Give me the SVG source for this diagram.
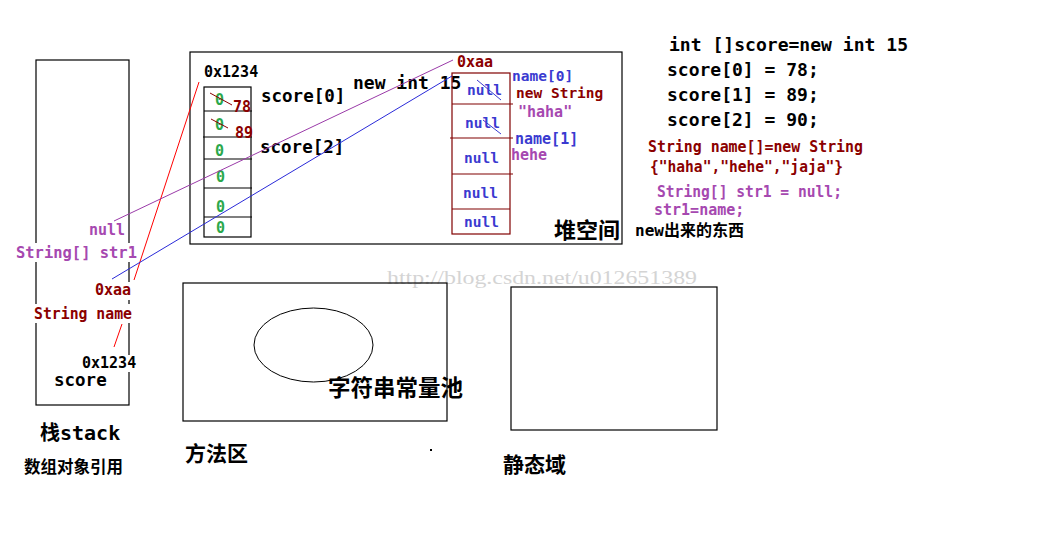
<svg xmlns="http://www.w3.org/2000/svg" width="1064" height="537" viewBox="0 0 1064 537">
<style>
.box{fill:none;stroke:#000;stroke-width:1.2}
.arr{fill:none;stroke:#800000;stroke-width:1.2}
.t{font-family:"DejaVu Sans Mono","Liberation Mono","Noto Sans CJK SC",monospace;font-weight:bold}
.cn{font-family:"Noto Sans CJK SC","DejaVu Sans",sans-serif;font-weight:bold}
.k{fill:#000}
.dr{fill:#8b0000}
.pu{fill:#a648b0}
.bl{fill:#3a3ad0}
.gr{fill:#2aa84a}
.wm{font-family:"Liberation Serif",serif;fill:#d4d4d4;font-size:18px}
</style>

<text class="wm" x="387" y="284" textLength="310" lengthAdjust="spacingAndGlyphs">http://blog.csdn.net/u012651389</text>

<g id="stack">
<rect class="box" x="36" y="60" width="93" height="345"/>
<rect x="14" y="243" width="126" height="19" fill="#fff"/>
<rect x="93" y="282" width="40" height="18" fill="#fff"/>
<rect x="32" y="304" width="103" height="19" fill="#fff"/>
<rect x="80" y="355" width="58" height="17" fill="#fff"/>
<text class="t pu" x="89" y="235" font-size="15">null</text>
<text class="t pu" x="16" y="258" font-size="15.5" textLength="121" lengthAdjust="spacingAndGlyphs">String[] str1</text>
<text class="t dr" x="95" y="295" font-size="15">0xaa</text>
<text class="t dr" x="34" y="319" font-size="15" textLength="98" lengthAdjust="spacingAndGlyphs">String name</text>
<text class="t k" x="82" y="368" font-size="15">0x1234</text>
<text class="t k" x="54" y="386" font-size="17.5">score</text>
<text class="t k" x="40" y="440" font-size="20">栈stack</text>
<text class="cn k" x="24" y="473" font-size="16.5">数组对象引用</text>
</g>

<g id="heap">
<rect class="box" x="190" y="52" width="432" height="192"/>
<text class="cn k" x="554" y="238" font-size="22">堆空间</text>
</g>

<g id="intArray">
<rect class="box" x="204" y="87" width="47" height="150"/>
<path class="box" d="M204 111H252M203 137H252M204 159H252M204 188H252M204 217H252"/>
<text class="t gr" x="215" y="105" font-size="15">0</text>
<text class="t gr" x="215" y="130" font-size="15">0</text>
<text class="t gr" x="215" y="156" font-size="15">0</text>
<text class="t gr" x="216" y="182" font-size="15">0</text>
<text class="t gr" x="216" y="212" font-size="15">0</text>
<text class="t gr" x="216" y="233" font-size="15">0</text>
<path d="M210 93L232 105M211 119L228 128" stroke="#8b0000" stroke-width="1" fill="none"/>
<text class="t dr" x="233" y="112" font-size="15">78</text>
<text class="t dr" x="235" y="138" font-size="15">89</text>
<text class="t k" x="204" y="77" font-size="15">0x1234</text>
<text class="t k" x="261" y="102" font-size="17.5">score[0]</text>
<text class="t k" x="260" y="153" font-size="17.5">score[2]</text>
<text class="t k" x="353" y="89" font-size="18">new int 15</text>
</g>

<g id="stringArray">
<rect class="arr" x="452" y="73" width="58" height="161"/>
<path class="arr" d="M452 104H513M450 138H513M452 174H513M452 209H510"/>
<text class="t bl" x="467" y="95" font-size="14.5">null</text>
<text class="t bl" x="465" y="128" font-size="14.5">null</text>
<text class="t bl" x="464" y="163" font-size="14.5">null</text>
<text class="t bl" x="463" y="198" font-size="14.5">null</text>
<text class="t bl" x="464" y="227" font-size="14.5">null</text>
<path d="M477 80L501 100M483 120L501 134" stroke="#3a3ad0" stroke-width="1" fill="none"/>
<text class="t dr" x="457" y="67" font-size="15">0xaa</text>
<text class="t bl" x="512" y="81" font-size="14.5">name[0]</text>
<text class="t dr" x="516" y="98" font-size="14.5">new String</text>
<text class="t pu" x="518" y="117" font-size="15">"haha"</text>
<text class="t bl" x="515" y="144" font-size="15">name[1]</text>
<text class="t pu" x="511" y="160" font-size="15">hehe</text>
</g>

<g id="code">
<text class="t k" x="669" y="51" font-size="18" textLength="239" lengthAdjust="spacingAndGlyphs">int []score=new int 15</text>
<text class="t k" x="667" y="76" font-size="18">score[0] = 78;</text>
<text class="t k" x="667" y="101" font-size="18">score[1] = 89;</text>
<text class="t k" x="667" y="126" font-size="18">score[2] = 90;</text>
<text class="t dr" x="648" y="152" font-size="15" textLength="215" lengthAdjust="spacingAndGlyphs">String name[]=new String</text>
<text class="t dr" x="650" y="172" font-size="15" textLength="193" lengthAdjust="spacingAndGlyphs">{"haha","hehe","jaja"}</text>
<text class="t pu" x="657" y="197" font-size="15" textLength="185" lengthAdjust="spacingAndGlyphs">String[] str1 = null;</text>
<text class="t pu" x="654" y="215" font-size="15">str1=name;</text>
<text class="t k" x="635" y="236" font-size="16">new出来的东西</text>
</g>

<g id="methodArea">
<rect class="box" x="183" y="283" width="264" height="138"/>
<ellipse cx="313.5" cy="345" rx="59.5" ry="37" fill="none" stroke="#000" stroke-width="1"/>
<text class="cn k" x="328" y="396" font-size="22.5">字符串常量池</text>
<text class="cn k" x="185" y="461" font-size="21">方法区</text>
<rect x="430" y="449" width="2" height="2" fill="#000"/>
</g>

<g id="staticArea">
<rect class="box" x="511" y="287" width="206" height="143"/>
<text class="cn k" x="503" y="472" font-size="21">静态域</text>
</g>

<g id="connectors" fill="none" stroke-width="1">
<line x1="134" y1="280" x2="199" y2="82" stroke="#ff0000"/>
<line x1="122" y1="324" x2="114" y2="347" stroke="#ff0000"/>
<line x1="114" y1="221" x2="453" y2="60" stroke="#9a3aa8"/>
<line x1="112" y1="279" x2="452" y2="76" stroke="#2a2ad8"/>
</g>
</svg>
